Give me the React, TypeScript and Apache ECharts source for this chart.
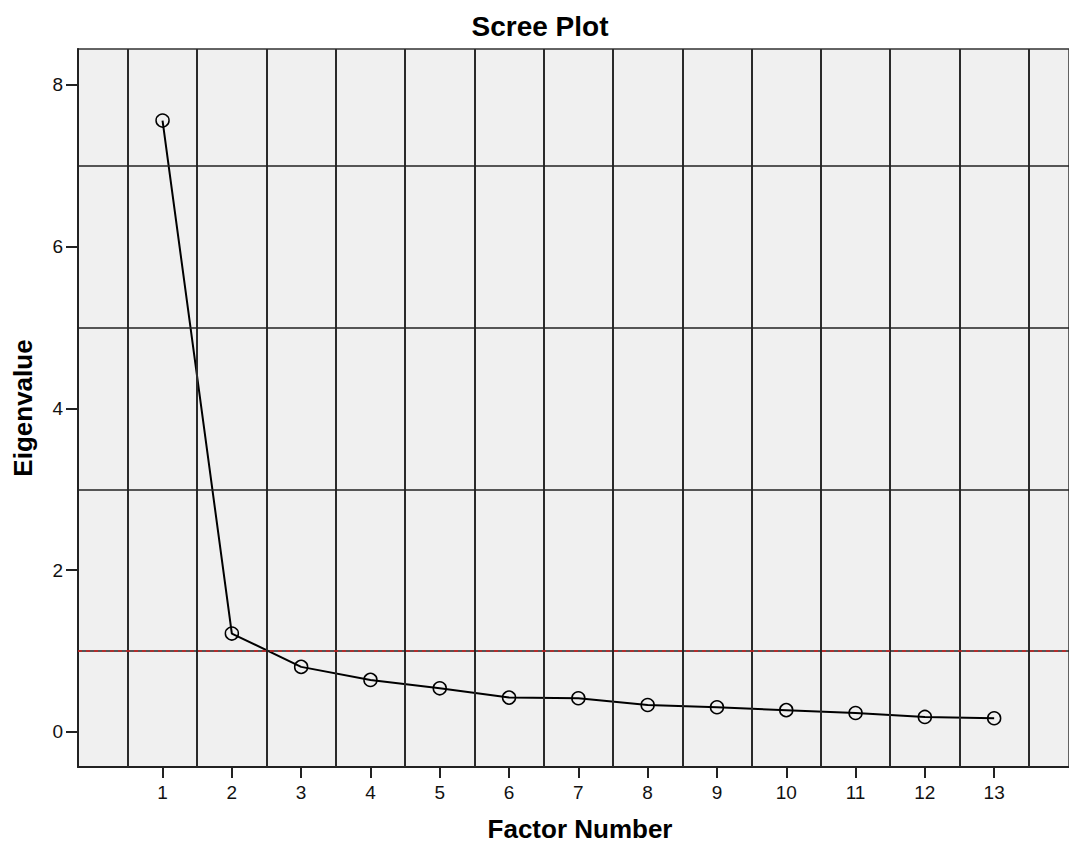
import React, { useEffect, useRef } from "react";
import * as echarts from "echarts";

const factors = [1, 2, 3, 4, 5, 6, 7, 8, 9, 10, 11, 12, 13];
const eigenvalues = [7.56, 1.217, 0.805, 0.644, 0.54, 0.425, 0.417, 0.334, 0.306, 0.27, 0.235, 0.186, 0.17];
const yTickValues = [0, 2, 4, 6, 8];
const gridXValues = [0.5, 1.5, 2.5, 3.5, 4.5, 5.5, 6.5, 7.5, 8.5, 9.5, 10.5, 11.5, 12.5, 13.5];
const gridYValues = [1, 3, 5, 7];
const referenceLine = 1;

const FONT = "'Liberation Sans', Arial, sans-serif";

export default function App() {
  const ref = useRef<HTMLDivElement>(null);
  useEffect(() => {
    document.body.style.margin = "0";
    const chart = echarts.init(ref.current!, undefined, { renderer: "svg" });
    const points = factors.map((f, i) => [f, eigenvalues[i]]);
    chart.setOption({
      animation: false,
      backgroundColor: "#ffffff",
      textStyle: { fontFamily: FONT },
      grid: {
        left: 78,
        top: 49,
        right: -2,
        bottom: 77,
        show: true,
        backgroundColor: "#f0f0f0",
        borderColor: "#333",
        borderWidth: 1.5,
      },
      xAxis: {
        type: "value",
        min: -0.22,
        max: 14.08,
        axisLine: { show: true, onZero: false, lineStyle: { color: "#222", width: 2 } },
        axisTick: {
          show: true,
          customValues: factors,
          length: 11,
          lineStyle: { color: "#222", width: 2 },
        },
        axisLabel: {
          customValues: factors,
          margin: 16,
          fontSize: 19,
          color: "#111",
          fontFamily: FONT,
        },
        splitLine: { show: false },
      },
      yAxis: {
        type: "value",
        min: -0.433,
        max: 8.445,
        axisLine: { show: true, onZero: false, lineStyle: { color: "#222", width: 2 } },
        axisTick: {
          show: true,
          customValues: yTickValues,
          length: 12,
          lineStyle: { color: "#222", width: 2 },
        },
        axisLabel: {
          customValues: yTickValues,
          margin: 15,
          fontSize: 19,
          color: "#111",
          fontFamily: FONT,
        },
        splitLine: { show: false },
      },
      graphic: [
        {
          type: "text",
          x: 540,
          y: 26,
          style: {
            text: "Scree Plot",
            textAlign: "center",
            textVerticalAlign: "middle",
            font: `bold 28px ${FONT}`,
            fill: "#000",
          },
        },
        {
          type: "text",
          x: 580,
          y: 829,
          style: {
            text: "Factor Number",
            textAlign: "center",
            textVerticalAlign: "middle",
            font: `bold 26px ${FONT}`,
            fill: "#000",
          },
        },
        {
          type: "text",
          x: 23,
          y: 408,
          rotation: Math.PI / 2,
          style: {
            text: "Eigenvalue",
            textAlign: "center",
            textVerticalAlign: "middle",
            font: `bold 26px ${FONT}`,
            fill: "#000",
          },
        },
      ],
      series: [
        {
          type: "line",
          silent: true,
          z: 1,
          data: [[factors[0], eigenvalues[0]]],
          symbol: "none",
          lineStyle: { opacity: 0 },
          markLine: {
            silent: true,
            symbol: ["none", "none"],
            label: { show: false },
            lineStyle: { color: "#2a2a2a", width: 2, type: "solid" },
            data: [
              ...gridXValues.map((v) => ({ xAxis: v })),
              ...gridYValues.map((v) => ({ yAxis: v, lineStyle: { width: 1.5, color: "#222" } })),
            ],
          },
        },
        {
          type: "line",
          silent: true,
          z: 2,
          data: [[factors[0], eigenvalues[0]]],
          symbol: "none",
          lineStyle: { opacity: 0 },
          markLine: {
            silent: true,
            symbol: ["none", "none"],
            label: { show: false },
            lineStyle: { color: "#d02020", width: 1.5, type: [4, 4] },
            data: [{ yAxis: referenceLine }],
          },
        },
        {
          type: "line",
          z: 3,
          data: points,
          symbol: "circle",
          symbolSize: 13,
          lineStyle: { color: "#000", width: 2 },
          itemStyle: { color: "rgba(0,0,0,0)", borderColor: "#000", borderWidth: 1.5 },
        },
      ],
    });
    return () => chart.dispose();
  }, []);
  return <div ref={ref} style={{ width: 1069, height: 844, position: "absolute", left: 0, top: 0 }} />;
}
